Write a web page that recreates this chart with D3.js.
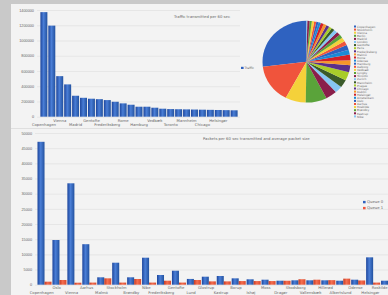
<!DOCTYPE html>
<html>
<head>
<meta charset="utf-8">
<script src="https://cdn.jsdelivr.net/npm/d3@7.9.0/dist/d3.min.js"></script>
<style>
  html, body { margin: 0; padding: 0; background: #c9c9c9; overflow: hidden; }
  svg { display: block; font-family: "DejaVu Sans", sans-serif; }
  .tick text { fill: #666; }
</style>
</head>
<body>
<svg id="chart" width="388" height="295"></svg>
<script>
// ---------------------------------------------------------
// Data
// ---------------------------------------------------------
const trafficCities = ["Copenhagen", "Stockholm", "Vienna", "Berlin", "Madrid", "London",
  "Gentofte", "Paris", "Frederiksberg", "Malmö", "Rome", "Odense", "Hamburg", "Aalborg",
  "Vedbæk", "Lyngby", "Toronto", "Zurich", "Mannheim", "Prague", "Chicago", "Dublin",
  "Helsingør", "Amsterdam", "Oslo"];
const trafficValues = [1372000, 1195000, 532000, 424000, 275000, 248000, 236000, 230000,
  218000, 196000, 175000, 157000, 131000, 131000, 118000, 105000, 100000, 98000, 96000,
  94000, 92000, 90000, 88000, 86000, 84000];
const trafficTicks = [0, 200000, 400000, 600000, 800000, 1000000, 1200000, 1400000];

const pieCities = ["Copenhagen", "Stockholm", "Vienna", "Berlin", "Madrid", "London",
  "Gentofte", "Paris", "Frederiksberg", "Malmö", "Rome", "Odense", "Hamburg", "Aalborg",
  "Vedbæk", "Lyngby", "Toronto", "Zurich", "Mannheim", "Prague", "Chicago", "Dublin",
  "Helsingør", "Amsterdam", "Oslo", "Aarhus", "Roskilde", "Brøndby", "Kastrup", "Nibe"];
const pieShares = [97, 55, 27, 28, 15, 10, 11, 12, 10, 7, 8, 7, 7, 6, 6, 5, 5, 5, 4, 4,
  4, 4, 4, 3, 3, 3, 3, 3, 3, 1];
const pieColors = ["#2f62c0", "#f0543c", "#f4d13a", "#5aa33a", "#8a1f4a", "#86c6f4",
  "#3a5a2a", "#a8cc2a", "#5a2f8a", "#f5962a", "#d0202a", "#1a8ad6"];

const packetCities = ["Copenhagen", "Oslo", "Vienna", "Aarhus", "Malmö", "Stockholm",
  "Brøndby", "Nibe", "Frederiksberg", "Gentofte", "Lund", "Glostrup", "Kastrup", "Borup",
  "Ishøj", "Moss", "Dragør", "Skodsborg", "Vallensbæk", "Hillerød", "Albertslund",
  "Odense", "Helsingør", "Roskilde"];
const queue0 = [47100, 14730, 33420, 13350, 2440, 7250, 2440, 8900, 3200, 4610, 1900,
  2640, 2870, 2100, 1780, 1650, 1320, 1450, 1450, 1450, 1320, 1650, 9020, 1320];
const queue1 = [1000, 1550, 660, 700, 2100, 700, 1880, 700, 1320, 700, 1550, 1100,
  1100, 1200, 1200, 1200, 1300, 1800, 1650, 1500, 2000, 1400, 700, 1200];
const seriesNames = ["Queue 0", "Queue 1"];
const packetTicks = [0, 5000, 10000, 15000, 20000, 25000, 30000, 35000, 40000, 45000, 50000];

// ---------------------------------------------------------
// Setup
// ---------------------------------------------------------
const svg = d3.select("#chart");
const fontSize = 3.8;

const defs = svg.append("defs");
function addGradient(id, stops) {
  const g = defs.append("linearGradient").attr("id", id)
    .attr("x1", 0).attr("x2", 1).attr("y1", 0).attr("y2", 0);
  stops.forEach(([o, c]) => g.append("stop").attr("offset", o).attr("stop-color", c));
}
addGradient("gBlue", [[0, "#1c459c"], [0.45, "#4a7ed6"], [1, "#22519f"]]);
addGradient("gRed", [[0, "#c33b25"], [0.45, "#f56e4f"], [1, "#d84a30"]]);

// panels
svg.append("rect").attr("x", 11).attr("y", 4).attr("width", 377).attr("height", 124.5)
  .attr("fill", "#f3f3f3");
svg.append("rect").attr("x", 11).attr("y", 129).attr("width", 377).attr("height", 166)
  .attr("fill", "#f3f3f3");
svg.append("rect").attr("x", 11).attr("y", 128.5).attr("width", 377).attr("height", 0.5)
  .attr("fill", "#e0e0e0");

function styleAxis(g) {
  g.select(".domain").remove();
  g.selectAll(".tick line").attr("stroke", "#dedede").attr("stroke-width", 0.6);
  g.selectAll(".tick text").attr("font-size", fontSize);
}

// ---------------------------------------------------------
// Top bar chart: traffic
// ---------------------------------------------------------
const tx = d3.scaleBand().domain(trafficCities).range([40, 238])
  .paddingInner(0.12).paddingOuter(0.05);
const ty = d3.scaleLinear().domain([0, 1400000]).range([116.7, 10]);

svg.append("g")
  .attr("transform", "translate(37,0)")
  .call(d3.axisLeft(ty).tickValues(trafficTicks).tickSize(-203).tickPadding(3)
    .tickFormat(d3.format("d")))
  .call(styleAxis);

svg.append("g").selectAll("rect")
  .data(trafficValues)
  .join("rect")
  .attr("x", (d, i) => tx(trafficCities[i]))
  .attr("y", d => ty(d))
  .attr("width", tx.bandwidth())
  .attr("height", d => ty(0) - ty(d))
  .attr("fill", "url(#gBlue)");

// every other bar is labelled, staggered on two rows
svg.append("g").selectAll("text")
  .data(trafficCities.filter((d, i) => i % 2 === 0 && i < 24))
  .join("text")
  .attr("x", d => tx(d) + tx.bandwidth() / 2)
  .attr("y", (d, i) => i % 2 === 0 ? 125.5 : 121.5)
  .attr("text-anchor", "middle")
  .attr("font-size", fontSize)
  .attr("fill", "#666")
  .text(d => d);

svg.append("text")
  .attr("x", 230).attr("y", 18)
  .attr("text-anchor", "end")
  .attr("font-size", fontSize)
  .attr("fill", "#666")
  .text("Traffic transmitted per 60 sec");

// small legend of the bar chart
svg.append("rect").attr("x", 241).attr("y", 66.8).attr("width", 2.6).attr("height", 2.2)
  .attr("fill", "#2f62c0");
svg.append("text").attr("x", 244.5).attr("y", 69.2)
  .attr("font-size", fontSize - 0.6).attr("fill", "#666").text("Traffic");

// ---------------------------------------------------------
// Pie
// ---------------------------------------------------------
const pie = d3.pie().sort(null).startAngle(0).endAngle(-2 * Math.PI);
const arc = d3.arc().innerRadius(0).outerRadius(44);
const color = d3.scaleOrdinal().domain(pieCities).range(pieColors);

svg.append("g")
  .attr("transform", "translate(306.5,61.7) scale(1,0.93)")
  .selectAll("path")
  .data(pie(pieShares))
  .join("path")
  .attr("d", arc)
  .attr("fill", (d, i) => color(pieCities[i]));

const pieLegend = svg.append("g").selectAll("g")
  .data(pieCities)
  .join("g")
  .attr("transform", (d, i) => `translate(354,${26.7 + i * 3.1})`);
pieLegend.append("rect").attr("y", -1.2).attr("width", 2).attr("height", 2)
  .attr("fill", d => color(d));
pieLegend.append("text").attr("x", 3).attr("y", 1)
  .attr("font-size", 2.9).attr("fill", "#666").text(d => d);

// ---------------------------------------------------------
// Bottom grouped bar chart: packets
// ---------------------------------------------------------
const bx = d3.scaleBand().domain(packetCities).range([37.5, 37.5 + 24 * 14.9])
  .paddingInner(0.06).paddingOuter(0);
const bx1 = d3.scaleBand().domain(seriesNames).range([0, bx.bandwidth()]).padding(0);
const by = d3.scaleLinear().domain([0, 50000]).range([284.7, 133]);

svg.append("g")
  .attr("transform", "translate(35,0)")
  .call(d3.axisLeft(by).tickValues(packetTicks).tickSize(-353).tickPadding(3)
    .tickFormat(d3.format("d")))
  .call(styleAxis);

const rows = packetCities.map((c, i) => ({ city: c, values: [queue0[i], queue1[i]] }));
const groups = svg.append("g").selectAll("g")
  .data(rows)
  .join("g")
  .attr("transform", d => `translate(${bx(d.city)},0)`);

groups.selectAll("rect")
  .data(d => d.values.map((v, k) => ({ key: seriesNames[k], v })))
  .join("rect")
  .attr("x", d => bx1(d.key))
  .attr("y", d => by(d.v))
  .attr("width", bx1.bandwidth())
  .attr("height", d => by(0) - by(d.v))
  .attr("fill", d => d.key === seriesNames[0] ? "url(#gBlue)" : "url(#gRed)");

const lastCity = packetCities[packetCities.length - 1];
svg.append("g").selectAll("text")
  .data(packetCities)
  .join("text")
  .attr("x", d => d === lastCity ? 387.5 : bx(d) + bx.bandwidth() * 0.3)
  .attr("y", (d, i) => i % 2 === 0 ? 293.5 : 289.3)
  .attr("text-anchor", d => d === lastCity ? "end" : "middle")
  .attr("font-size", fontSize)
  .attr("fill", "#666")
  .text(d => d);

svg.append("text")
  .attr("x", 203).attr("y", 140)
  .attr("font-size", fontSize)
  .attr("fill", "#666")
  .text("Packets per 60 sec transmitted and average packet size");

const bLegend = svg.append("g").selectAll("g")
  .data(seriesNames)
  .join("g")
  .attr("transform", (d, i) => `translate(363,${202.7 + i * 6})`);
bLegend.append("rect").attr("y", -1.8).attr("width", 2.6).attr("height", 2.4)
  .attr("fill", (d, i) => i === 0 ? "#2f62c0" : "#f0543c");
bLegend.append("text").attr("x", 4).attr("y", 0.6)
  .attr("font-size", fontSize).attr("fill", "#666").text(d => d);
</script>
</body>
</html>
